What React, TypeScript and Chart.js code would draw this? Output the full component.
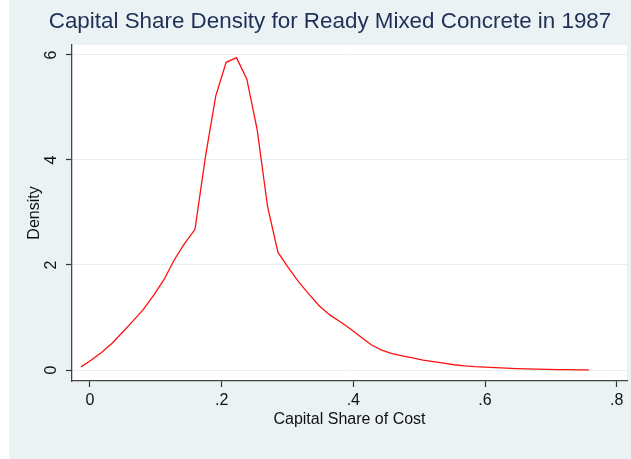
import React, { useEffect, useRef } from 'react';
import { Chart, registerables } from 'chart.js';

Chart.register(...registerables);

const TITLE = 'Capital Share Density for Ready Mixed Concrete in 1987';
const X_TITLE = 'Capital Share of Cost';
const Y_TITLE = 'Density';

const shareValues = [
  -0.0135, 0.0022, 0.018, 0.0337, 0.0495, 0.0652, 0.0809, 0.0967, 0.1124, 0.1282,
  0.1439, 0.1596, 0.1754, 0.1911, 0.2069, 0.2226, 0.2383, 0.2541, 0.2698, 0.2856,
  0.3013, 0.317, 0.3328, 0.3485, 0.3643, 0.38, 0.3957, 0.4115, 0.4272, 0.443,
  0.4587, 0.4744, 0.4902, 0.5059, 0.5217, 0.5374, 0.5531, 0.5689, 0.5846, 0.6004,
  0.6161, 0.6318, 0.6476, 0.6633, 0.6791, 0.6948, 0.7105, 0.7263, 0.742, 0.7578,
];

const densityValues = [
  0.06, 0.19, 0.34, 0.51, 0.72, 0.93, 1.15, 1.42, 1.72, 2.1,
  2.41, 2.68, 4.06, 5.22, 5.86, 5.95, 5.54, 4.57, 3.11, 2.24,
  1.95, 1.68, 1.44, 1.22, 1.05, 0.92, 0.78, 0.63, 0.48, 0.38,
  0.31, 0.27, 0.23, 0.19, 0.16, 0.13, 0.1, 0.08, 0.065, 0.055,
  0.045, 0.035, 0.027, 0.02, 0.015, 0.011, 0.008, 0.006, 0.004, 0.003,
];

const xTickValues = [0, 0.2, 0.4, 0.6, 0.8];
const xTickLabels = ['0', '.2', '.4', '.6', '.8'];
const yTickValues = [0, 2, 4, 6];
const yTickLabels = ['0', '2', '4', '6'];

const FONT = "'Liberation Sans', Arial, Helvetica, sans-serif";

const bgPlugin = {
  id: 'stataBackground',
  beforeDraw(chart: any) {
    const { ctx, chartArea } = chart;
    ctx.save();
    ctx.fillStyle = '#EAF2F3';
    ctx.fillRect(0, 0, chart.width, chart.height);
    ctx.fillStyle = '#ffffff';
    ctx.fillRect(chartArea.left, chartArea.top, chartArea.right - chartArea.left, chartArea.bottom - chartArea.top);
    ctx.restore();
  },
};

export default function App() {
  const ref = useRef<HTMLCanvasElement | null>(null);

  useEffect(() => {
    if (!ref.current) return;
    const chart = new Chart(ref.current, {
      type: 'line',
      data: {
        datasets: [
          {
            label: Y_TITLE,
            data: shareValues.map((x, i) => ({ x, y: densityValues[i] })),
            borderColor: '#ff1010',
            borderWidth: 1.3,
            pointRadius: 0,
            tension: 0,
            fill: false,
          },
        ],
      },
      options: {
        responsive: false,
        animation: false,
        devicePixelRatio: 1,
        layout: { padding: { top: 0, right: 24, bottom: 0, left: 24 } },
        plugins: {
          legend: { display: false },
          tooltip: { enabled: false },
          title: {
            display: true,
            text: TITLE,
            color: '#1f2f57',
            font: { family: FONT, size: 22.4, weight: 'normal', lineHeight: 1.2 },
            padding: { top: 8.8, bottom: 9.32 },
          },
        },
        scales: {
          x: {
            type: 'linear',
            min: -0.0272,
            max: 0.8156,
            afterBuildTicks: (s: any) => {
              s.ticks = xTickValues.map((v) => ({ value: v }));
            },
            afterFit: (s: any) => {
              s.height = 78;
            },
            ticks: {
              color: '#111',
              font: { family: FONT, size: 16 },
              padding: 4,
              maxRotation: 0,
              minRotation: 0,
              callback: (_v: any, i: number) => xTickLabels[i],
            },
            grid: {
              drawOnChartArea: false,
              drawTicks: true,
              tickLength: 6,
              tickColor: '#333',
              tickWidth: 1.2,
            },
            border: { display: true, color: '#444', width: 1.3 },
            title: {
              display: true,
              text: X_TITLE,
              color: '#111',
              font: { family: FONT, size: 16 },
              padding: { top: 0, bottom: 29.4 },
            },
          },
          y: {
            type: 'linear',
            min: -0.2095,
            max: 6.19,
            afterBuildTicks: (s: any) => {
              s.ticks = yTickValues.map((v) => ({ value: v }));
            },
            afterFit: (s: any) => {
              s.width = 39;
            },
            ticks: {
              color: '#111',
              font: { family: FONT, size: 16 },
              padding: 10,
              minRotation: 90,
              maxRotation: 90,
              crossAlign: 'center',
              callback: (_v: any, i: number) => yTickLabels[i],
            },
            grid: {
              color: '#e6eff1',
              lineWidth: 1,
              drawTicks: true,
              tickLength: 6,
              tickColor: '#333',
              tickWidth: 1.2,
            },
            border: { display: true, color: '#444', width: 1.3 },
            title: {
              display: true,
              text: Y_TITLE,
              color: '#111',
              font: { family: FONT, size: 16, lineHeight: 1.2 },
              padding: { top: -8, bottom: 0 },
            },
          },
        },
      },
      plugins: [bgPlugin],
    } as any);
    return () => chart.destroy();
  }, []);

  return (
    <div
      style={{
        position: 'fixed',
        left: 9,
        top: 0,
        width: 622,
        height: 459,
        overflow: 'hidden',
        background: '#EAF2F3',
      }}
    >
      <canvas ref={ref} width={642} height={459} style={{ display: 'block', width: 642, height: 459 }} />
    </div>
  );
}
